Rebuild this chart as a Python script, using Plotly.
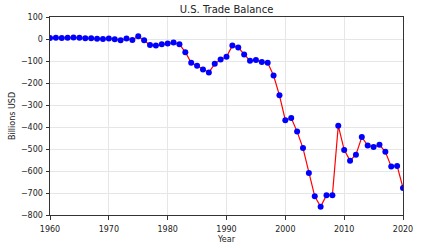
import plotly.graph_objects as go

years = list(range(1960, 2021))
balance = [4.9, 5.6, 4.5, 5.2, 7.0, 5.4, 3.8, 3.8, 0.6, 0.1,
           2.3, -1.3, -5.4, 1.9, -4.3, 12.4, -6.1, -27.2, -29.8, -24.0,
           -21.0, -16.0, -24.0, -60.0, -108.0, -122.0, -139.0, -152.0, -113.0, -93.0,
           -81.0, -30.0, -39.0, -71.0, -99.0, -96.0, -105.0, -108.0, -166.0, -256.0,
           -369.0, -359.0, -421.0, -496.0, -609.0, -715.0, -762.0, -710.0, -710.0, -394.0,
           -504.0, -553.0, -526.0, -446.0, -484.0, -491.0, -481.0, -513.0, -580.0, -577.0,
           -677.0]
x_ticks = [1960, 1970, 1980, 1990, 2000, 2010, 2020]
y_ticks = [100, 0, -100, -200, -300, -400, -500, -600, -700, -800]

fig = go.Figure()
fig.add_trace(go.Scatter(
    x=years, y=balance, mode="lines+markers",
    line=dict(color="#ff0000", width=1.2),
    marker=dict(color="#0000ff", size=6),
))

axis_common = dict(
    showline=True, linecolor="#333333", linewidth=1, mirror=True,
    ticks="outside", ticklen=3.5, tickcolor="#333333",
    showgrid=True, gridcolor="#e6e6e6", gridwidth=1, zeroline=False,
    tickfont=dict(family="DejaVu Sans", size=8, color="#222222"),
    automargin=False,
)
fig.update_layout(
    width=423, height=246,
    margin=dict(l=50, r=20, t=17, b=31),
    paper_bgcolor="white", plot_bgcolor="white",
    showlegend=False,
    title=dict(text="U.S. Trade Balance", xref="paper", x=0.5, xanchor="center",
               yref="container", y=0.963, yanchor="middle",
               font=dict(family="DejaVu Sans", size=10, color="#222222")),
    xaxis=dict(range=[1960, 2020], tickvals=x_ticks, ticklabelstandoff=3,
               title=dict(text="Year", font=dict(family="DejaVu Sans", size=8, color="#222222"), standoff=3),
               **axis_common),
    yaxis=dict(range=[-800, 100], tickvals=y_ticks, ticklabelstandoff=1,
               title=dict(text="Billions USD", font=dict(family="DejaVu Sans", size=8, color="#222222"), standoff=4),
               **axis_common),
)
fig.write_html("out.html")
